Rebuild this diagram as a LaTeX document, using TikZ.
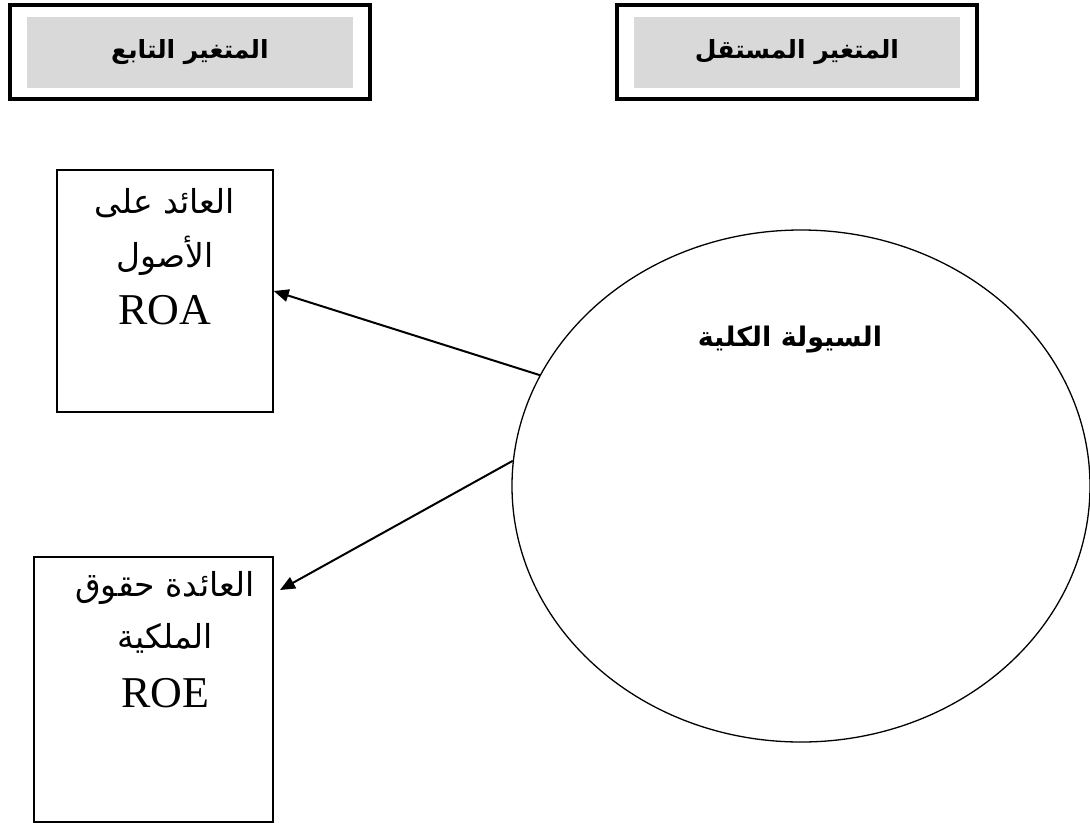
\documentclass[tikz,border=0pt]{standalone}
\usepackage{fontspec}
\setmainfont{Liberation Serif}
\newfontfamily\arabicfont[Script=Arabic]{DejaVu Sans}
\TeXXeTstate=1
\usetikzlibrary{shapes.geometric,arrows.meta}
\begin{document}
\begin{tikzpicture}[x=1pt,y=-1pt,
  hdr/.style={draw=black,line width=4pt,minimum width=360pt,minimum height=94pt,inner sep=0pt},
  hdrfill/.style={fill=black!15,minimum width=326pt,minimum height=71pt,inner sep=0pt,font=\arabicfont\bfseries\fontsize{25}{29}\selectfont},
  vbox/.style={draw=black,line width=1.5pt,inner sep=0pt},
  ar/.style={font=\arabicfont\fontsize{33}{38}\selectfont,inner sep=0pt},
  lat/.style={font=\fontsize{44}{50}\selectfont,inner sep=0pt},
  arr/.style={line width=2pt,-{Triangle[length=15pt,width=12.5pt]}}]
\useasboundingbox (0,0) rectangle (1090,823);
% headers
\node[hdr] (h1) at (190,52) {};
\node[hdrfill] (h1t) at (190,52.5) {\beginR المتغير التابع\endR};
\node[hdr] (h2) at (797,52) {};
\node[hdrfill] (h2t) at (797,52.5) {\beginR المتغير المستقل\endR};
% ROA box
\node[vbox,minimum width=216pt,minimum height=242pt] (roa) at (165,291) {};
\node[ar] (roa1) at (165,203) {\beginR العائد على\endR};
\node[ar] (roa2) at (165,256) {\beginR الأصول\endR};
\node[lat] (roa3) at (165,310) {ROA};
% ROE box
\node[vbox,minimum width=239pt,minimum height=265pt] (roe) at (153.5,689.5) {};
\node[ar] (roe1) at (165,588) {\beginR العائدة حقوق\endR};
\node[ar] (roe2) at (165,638) {\beginR الملكية\endR};
\node[lat] (roe3) at (165,693) {ROE};
% ellipse
\node[ellipse,draw=black,line width=1.3pt,minimum width=578pt,minimum height=512pt,inner sep=0pt] (ell) at (801,486) {};
\node[font=\arabicfont\bfseries\fontsize{27}{31}\selectfont,inner sep=0pt] (ellt) at (790,340) {\beginR السيولة الكلية\endR};
% arrows
\coordinate (t2) at (280,590);
\draw[arr] (ell.157) -- (roa.east);
\draw[arr] (ell.175) -- (t2);
\end{tikzpicture}
\end{document}
